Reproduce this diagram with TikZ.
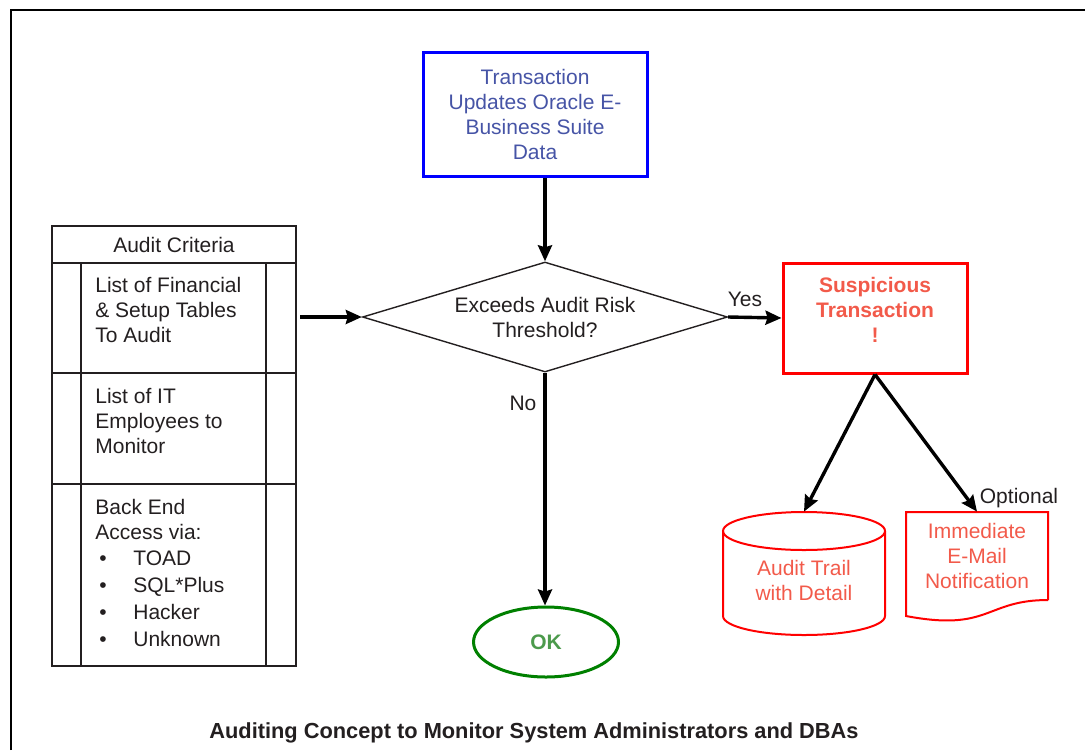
\documentclass[tikz,border=0pt]{standalone}
\usepackage{fontspec}
\setmainfont{Liberation Sans}
\usetikzlibrary{shapes.geometric, arrows.meta, positioning, calc}
\definecolor{txnblue}{RGB}{0,0,255}
\definecolor{txnink}{RGB}{70,84,166}
\definecolor{alertred}{RGB}{255,0,0}
\definecolor{alertink}{RGB}{242,90,74}
\definecolor{okgreen}{RGB}{0,128,0}
\definecolor{okink}{RGB}{76,154,76}
\definecolor{ink}{RGB}{35,31,32}
\newcommand{\boxfont}{\fontsize{10.5}{12.5}\selectfont}

\begin{document}
\begin{tikzpicture}[
    x=0.5pt, y=-0.5pt,
    every node/.style={font=\boxfont, text=ink},
    procbox/.style={rectangle, draw=txnblue, line width=1.5pt, minimum width=112pt, minimum height=62pt, align=center, text=txnink},
    decision/.style={diamond, draw=ink, line width=0.7pt, aspect=3.3, minimum width=182.5pt, minimum height=55pt, inner sep=0pt, align=center},
    alertbox/.style={rectangle, draw=alertred, line width=1.5pt, minimum width=92pt, minimum height=55pt},
    alertink/.style={align=center, text=alertink, font=\boxfont\bfseries},
    terminal/.style={ellipse, draw=okgreen, line width=1.5pt, minimum width=72.5pt, minimum height=35pt, text=okink, font=\boxfont\bfseries},
    outline/.style={draw=alertred, line width=1pt},
    redink/.style={align=center, text=alertink},
    grid/.style={draw=ink, line width=0.8pt},
    celltext/.style={align=left, inner sep=0pt, anchor=north west},
    lbl/.style={inner sep=0pt},
    arr/.style={-{Stealth[length=8pt, width=7pt, inset=1pt]}, line width=1.7pt},
]
\useasboundingbox (0,0) rectangle (1085,750);
\draw[line width=1pt] (11,750) -- (11,10) -- (1085,10);

% audit criteria table
\draw[grid] (52,226) rectangle (296,666);
\draw[grid] (52,263) -- (296,263) (52,373) -- (296,373) (52,484) -- (296,484);
\draw[grid] (81,263) -- (81,666) (266,263) -- (266,666);
\node[lbl] (crit) at (174,245) {Audit Criteria};
\node[celltext] (tables) at (95,277) {List of Financial\\\& Setup Tables\\To Audit};
\node[celltext] (staff) at (95,388) {List of IT\\Employees to\\Monitor};
\node[celltext] (access) at (95,499) {Back End\\Access via:\\[0.5pt]
    \hspace*{2pt}\makebox[17pt][l]{\textbullet}TOAD\\[1pt]
    \hspace*{2pt}\makebox[17pt][l]{\textbullet}SQL*Plus\\[1pt]
    \hspace*{2pt}\makebox[17pt][l]{\textbullet}Hacker\\[1pt]
    \hspace*{2pt}\makebox[17pt][l]{\textbullet}Unknown};
\coordinate (feed) at (300,317);

% main flow
\node[procbox] (txn) at (535,114) {Transaction\\Updates Oracle E-\\Business Suite\\Data};
\node[decision] (risk) at (545,317) {Exceeds Audit Risk\\Threshold?};
\node[alertbox] (susp) at (875,318) {};
\node[alertink] (susptext) at (875,310) {Suspicious\\Transaction\\!};
\node[terminal] (ok) at (546,642) {OK};

% outputs
\node[minimum width=81pt, minimum height=61.5pt] (trail) at (804,573.5) {};
\node[redink] (trailtext) at (804,580) {Audit Trail\\with Detail};
\draw[outline] (804,531) ellipse [x radius=40.5pt, y radius=9.5pt];
\draw[outline] (723,531) -- (723,616) arc[start angle=180, end angle=360, x radius=40.5pt, y radius=9.5pt] -- (885,531);
\node[redink, minimum width=71pt, minimum height=44pt] (mail) at (977,556) {Immediate\\E-Mail\\Notification};
\draw[outline] (1048,600) -- (1048,512) -- (906,512) -- (906,616) .. controls (990,632) and (985,600) .. (1048,600);

\node[lbl] (yes) at (745,299) {Yes};
\node[lbl] (no) at (523,403) {No};
\node[lbl] (opt) at (1019,498) {Optional};

\draw[arr] (txn.south -| risk.north) -- (risk.north);
\draw[arr] (feed) -- (risk.west);
\draw[arr] (risk.east) -- (susp.west);
\draw[arr] (risk.south) -- (risk.south |- ok.north);
\draw[arr] (susp.south) -- (trail.north);
\draw[arr] (susp.south) -- (mail.north);

\node[font=\fontsize{10.9}{13}\selectfont\bfseries] (caption) at (534,733) {Auditing Concept to Monitor System Administrators and DBAs};
\end{tikzpicture}
\end{document}
